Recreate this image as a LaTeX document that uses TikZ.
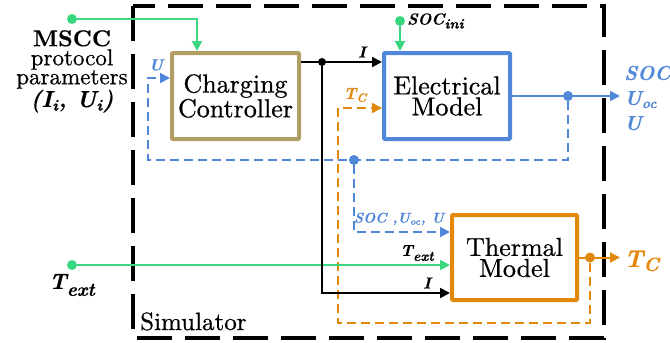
\documentclass[tikz,border=0pt]{standalone}
\usepackage{fontspec}
\usepackage{tikz}
\usetikzlibrary{arrows.meta}

\newfontfamily\boxfont{lmroman10-regular.otf}[FakeBold=0.7]
\newfontfamily\lblfont{lmroman10-bolditalic.otf}[FakeBold=0.4]
\newfontfamily\lblbold{lmroman10-bold.otf}[FakeBold=0.4]

\definecolor{simgreen}{RGB}{58,214,128}
\definecolor{simblue}{RGB}{80,135,216}
\definecolor{simorange}{RGB}{226,136,12}
\definecolor{simtan}{RGB}{178,157,98}

\tikzset{
    simblock/.style={draw, line width=4pt, fill=white, rounded corners=1pt, align=center,
        font=\boxfont\fontsize{26}{21}\selectfont},
    dot/.style={circle, inner sep=0pt, minimum size=10pt},
    wire/.style={line width=2pt},
    conn/.style={wire, -{Triangle[length=10pt,width=10pt]}},
    dashconn/.style={conn, dash pattern=on 9pt off 5pt},
    lbl/.style={font=\lblfont\fontsize{16}{16}\selectfont, inner sep=0pt},
    biglbl/.style={font=\lblfont\fontsize{22}{24}\selectfont, inner sep=0pt}
}

\begin{document}
\begin{tikzpicture}[x=1pt,y=-1pt]
    \useasboundingbox (0,0) rectangle (670,343);

    % Simulator frame
    \draw[line width=4pt, dash pattern=on 35pt off 13pt] (133,6) rectangle (604,338);
    \node[anchor=base west, inner sep=0pt, font=\boxfont\fontsize{25}{25}\selectfont] (simlbl) at (140,330) {Simulator};

    % Blocks
    \node[simblock, draw=simtan, minimum width=127pt, minimum height=86pt] (charger) at (235.5,96) {Charging\\Controller};
    \node[simblock, draw=simblue, minimum width=126pt, minimum height=86pt] (elec) at (447,96) {Electrical\\Model};
    \node[simblock, draw=simorange, minimum width=125pt, minimum height=85pt] (therm) at (514.5,257.5) {Thermal\\Model};

    % Split points and free ends
    \node[dot, fill=simgreen] (mscc) at (72,19) {};
    \node[dot, fill=simgreen] (socini) at (400,21) {};
    \node[dot, fill=simgreen] (text) at (72,265) {};
    \node[dot, fill=black, minimum size=8pt] (isplit) at (322,62) {};
    \node[dot, fill=simblue] (bsplit) at (568,96) {};
    \node[dot, fill=simblue] (bsplitb) at (354,160) {};
    \node[dot, fill=simorange] (tcsplit) at (590,257.5) {};
    \coordinate (elecout) at (620,96);
    \coordinate (thermout) at (620,257.5);

    % Feedback (dashed)
    \draw[dashconn, simblue] (bsplit) |- (148,160) |- ([yshift=18pt]charger.west);
    \draw[dashconn, simblue] (bsplitb) |- ([yshift=25.5pt]therm.west);
    \draw[dashconn, simorange] (tcsplit) |- (338,323) |- ([yshift=-12pt]elec.west);

    % Inputs
    \draw[conn, simgreen] (mscc) -| ([xshift=-38.5pt]charger.north);
    \draw[conn, simgreen] (socini) -- (socini |- elec.north);
    \draw[conn, simgreen] (text) -- (therm.west |- text);

    % Current
    \draw[conn] ([yshift=34pt]charger.east) -- ([yshift=34pt]elec.west);
    \draw[conn] (isplit) |- ([yshift=-35.5pt]therm.west);

    % Outputs
    \draw[conn, simblue] (elec.east) -- (elecout);
    \draw[conn, simorange] (therm.east) -- (thermout);

    % Labels
    \node[align=center, anchor=north, inner sep=0pt, font=\boxfont\fontsize{23}{19}\selectfont] (mscclbl) at (72,30)
        {{\lblbold MSCC}\\protocol\\parameters\\{\lblfont(I\textsubscript{i}, U\textsubscript{i})}};
    \node[lbl] (ilbla) at (362,52) {I};
    \node[lbl] (ilblb) at (427,283) {I};
    \node[lbl, anchor=west] (socinilbl) at (407,21) {SOC\raisebox{-4pt}{\fontsize{14}{14}\selectfont ini}};
    \node[lbl, simblue] (ulbl) at (156,65) {U};
    \node[lbl, simorange] (tclbl) at (355,95) {T\raisebox{-3pt}{\fontsize{12}{12}\selectfont C}};
    \node[lbl, simblue, font=\lblfont\fontsize{14}{14}\selectfont] (thinlbl) at (399,219) {SOC ,U\textsubscript{oc}, U};
    \node[lbl] (textlbla) at (417,253) {T\raisebox{-5pt}{\fontsize{14}{14}\selectfont ext}};
    \node[biglbl] (textlblb) at (72,285) {T\raisebox{-7pt}{\fontsize{19}{19}\selectfont ext}};
    \node[biglbl, simblue, anchor=west, align=left, font=\lblfont\fontsize{20}{25}\selectfont] (outlbl) at (624,98)
        {SOC\\U\textsubscript{oc}\\U};
    \node[biglbl, simorange, anchor=west, font=\lblfont\fontsize{24}{24}\selectfont] (tcout) at (624,261)
        {T\raisebox{-4pt}{\fontsize{19}{19}\selectfont C}};
\end{tikzpicture}
\end{document}
